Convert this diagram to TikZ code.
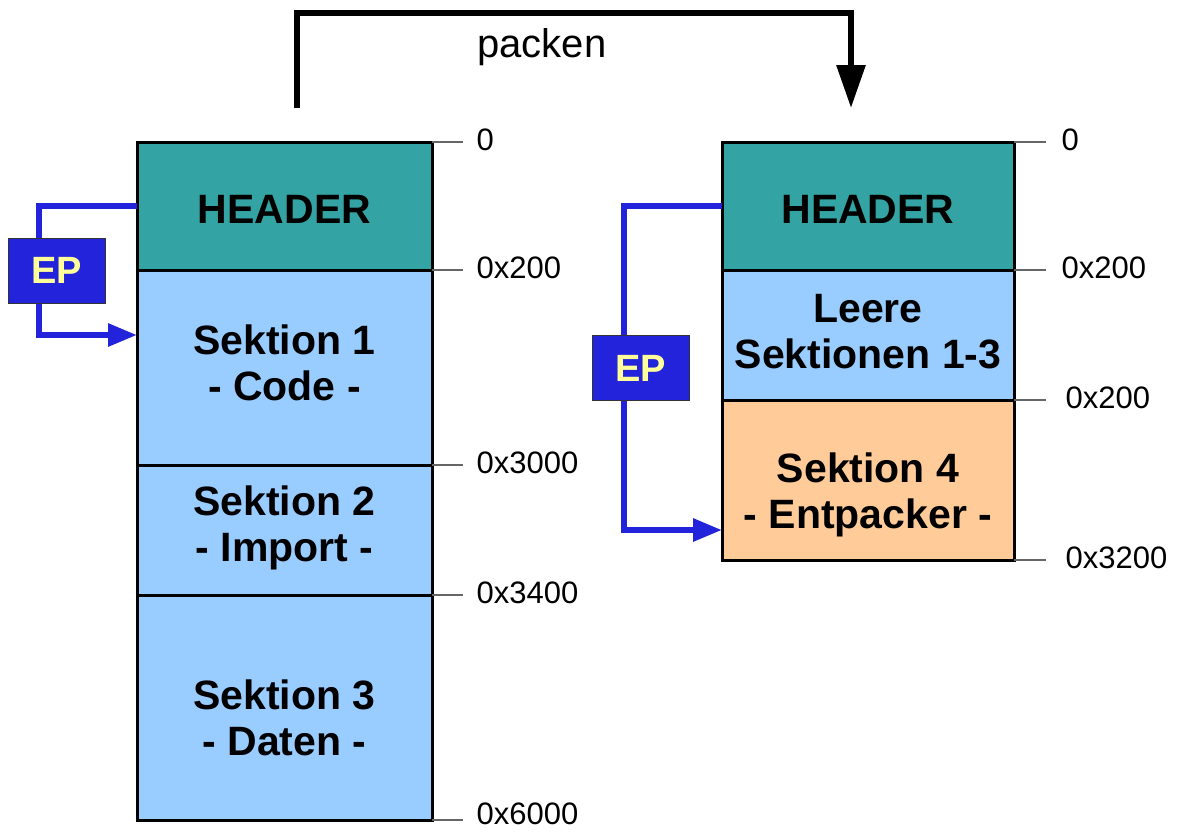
\documentclass[tikz,border=0pt]{standalone}
\usepackage{fontspec}
\setmainfont{Liberation Sans}
\usetikzlibrary{positioning,arrows.meta}

\definecolor{hdrteal}{RGB}{51,163,163}
\definecolor{seclight}{RGB}{153,204,255}
\definecolor{secpeach}{RGB}{255,204,153}
\definecolor{epblue}{RGB}{35,35,220}
\definecolor{eptext}{RGB}{255,255,153}

\begin{document}
\begin{tikzpicture}[x=0.5pt,y=-0.5pt]
	\tikzstyle{part}=[rectangle, draw=black, line width=1.5pt, inner sep=0pt, outer sep=0pt]
	\tikzstyle{colL}=[part, minimum width=147.5pt]
	\tikzstyle{colR}=[part, minimum width=146pt]
	\tikzstyle{sectext}=[align=center, inner sep=0pt, font=\fontsize{20.5}{23}\selectfont\bfseries]
	\tikzstyle{ep}=[rectangle, draw=black!80, line width=0.5pt, fill=epblue, minimum width=48.5pt, minimum height=32.5pt, text=eptext, font=\fontsize{19}{22}\selectfont\bfseries]
	\tikzstyle{epline}=[draw=epblue, line width=3pt, line join=miter, -{Triangle[length=14.5pt,width=11pt]}]
	\tikzstyle{tick}=[draw=black!60, line width=0.6pt]
	\tikzstyle{addr}=[right, inner sep=0pt, xshift=6.5pt, yshift=1pt, text=black, font=\fontsize{15.5}{18}\selectfont]

	\useasboundingbox (0,0) rectangle (1179,832);

	% original file
	\node[colL, fill=hdrteal, minimum height=64pt,
		label={[sectext, yshift=-1.5pt]center:HEADER}] (headerL) at (284.5,206) {};
	\node[colL, fill=seclight, minimum height=97.5pt, below=0pt of headerL,
		label={[sectext, yshift=2.25pt]center:Sektion 1\\- Code -}] (code) {};
	\node[colL, fill=seclight, minimum height=65pt, below=0pt of code,
		label={[sectext, yshift=1.25pt]center:Sektion 2\\- Import -}] (import) {};
	\node[colL, fill=seclight, minimum height=112.5pt, below=0pt of import,
		label={[sectext, yshift=-5pt]center:Sektion 3\\- Daten -}] (daten) {};

	% packed file
	\node[colR, fill=hdrteal, minimum height=64pt,
		label={[sectext, yshift=-1.5pt]center:HEADER}] (headerR) at (868,206) {};
	\node[colR, fill=seclight, minimum height=65pt, below=0pt of headerR,
		label={[sectext, yshift=1.5pt]center:Leere\\Sektionen 1-3}] (leer) {};
	\node[colR, fill=secpeach, minimum height=80pt, below=0pt of leer,
		label={[sectext, yshift=-7.5pt]center:Sektion 4\\- Entpacker -}] (entpacker) {};

	% offsets
	\draw[tick] (headerL.north east) -- ++(31,0) node[addr] {0};
	\draw[tick] (headerL.south east) -- ++(31,0) node[addr] {0x200};
	\draw[tick] (code.south east) -- ++(31,0) node[addr] {0x3000};
	\draw[tick] (import.south east) -- ++(31,0) node[addr] {0x3400};
	\draw[tick] (daten.south east) -- ++(31,0) node[addr, yshift=2pt] {0x6000};

	\draw[tick] (headerR.north east) -- ++(32,0) node[addr, xshift=1pt] {0};
	\draw[tick] (headerR.south east) -- ++(32,0) node[addr, xshift=1pt] {0x200};
	\draw[tick] (leer.south east) -- ++(32,0) node[addr, xshift=3pt] {0x200};
	\draw[tick] (entpacker.south east) -- ++(32,0) node[addr, xshift=3pt] {0x3200};

	% entry points
	\coordinate (jmpL) at (39,335);
	\coordinate (jmpR) at (624,530);
	\draw[epline] (headerL.west) -| (jmpL) -- (code.west |- jmpL);
	\draw[epline] (headerR.west) -| (jmpR) -- (entpacker.west |- jmpR);
	\node[ep] (epL) at (56.5,270.5) {EP};
	\node[ep] (epR) at (640.5,368) {EP};

	% packen
	\coordinate (packfrom) at (297,108);
	\coordinate (packto) at (851,108);
	\draw[line width=3pt, line join=miter, -{Triangle[length=21.5pt,width=14pt]}] (packfrom) -- ++(0,-95) -| (packto);
	\node[font=\fontsize{20}{23}\selectfont] (packen) at (542,47) {packen};

\end{tikzpicture}
\end{document}
